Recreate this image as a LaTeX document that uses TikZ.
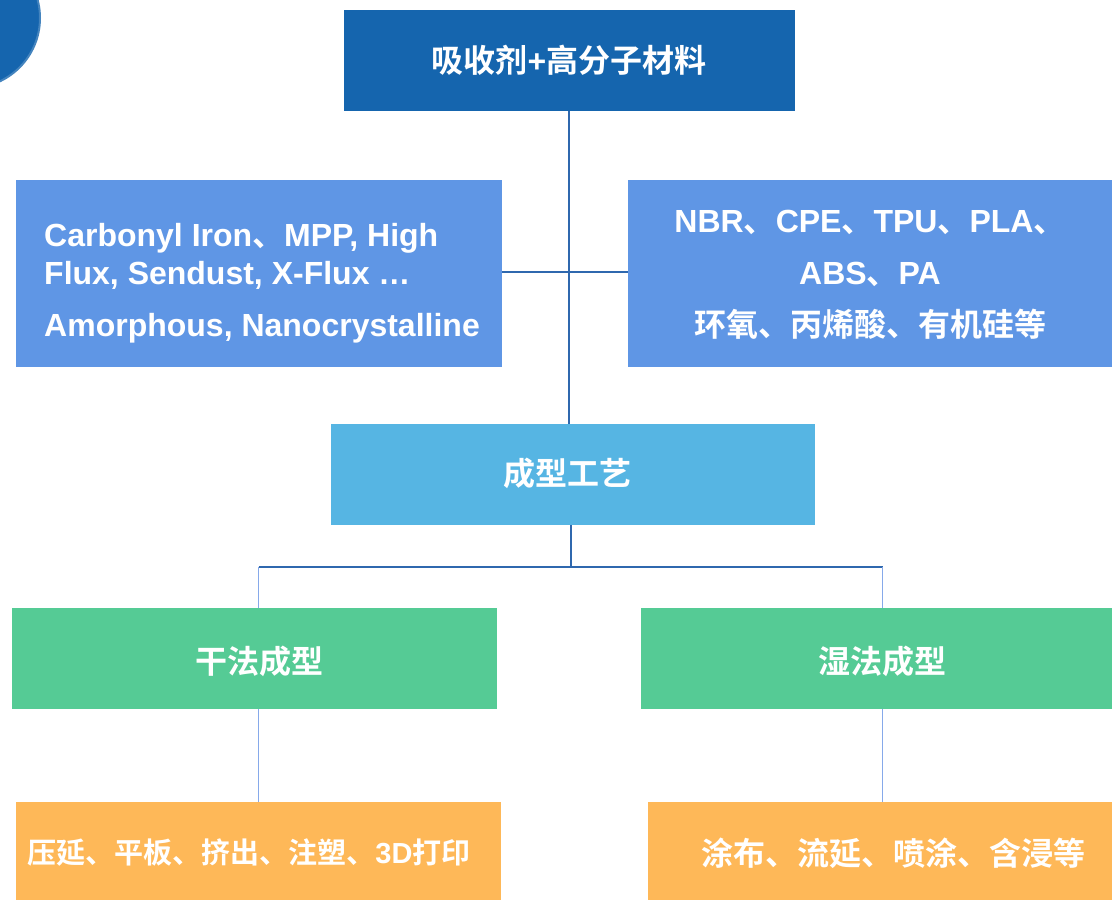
\documentclass[tikz,border=0pt]{standalone}
\usepackage{fontspec}
\setmainfont{Liberation Sans}
\newfontfamily\cjk{Noto Sans CJK SC}[BoldFont={Noto Sans CJK SC Bold}]
\newcommand\dun{{\cjk 、}}
\definecolor{cTop}{HTML}{1565AE}
\definecolor{cBlue}{HTML}{5F96E5}
\definecolor{cMid}{HTML}{56B5E3}
\definecolor{cGreen}{HTML}{55CB95}
\definecolor{cOrange}{HTML}{FEB858}
\definecolor{cLine}{HTML}{2F68AE}
\definecolor{cLight}{HTML}{86A9EA}
\begin{document}
\begin{tikzpicture}[x=1pt,y=-1pt,
  box/.style={anchor=north west, inner sep=0pt, draw=none},
  txt/.style={text=white, font=\bfseries\fontsize{32}{38}\selectfont},
  conn/.style={draw=cLine, line width=1.6pt},
  lconn/.style={draw=cLight, line width=1.4pt}]
\useasboundingbox (0,0) rectangle (1112,900);
\fill[cTop, draw=cTop!80!white, line width=2pt] (-30,18) circle (70);
% boxes
\node[box, fill=cTop, minimum width=451pt, minimum height=101pt] (top) at (344,10) {};
\node[box, fill=cBlue, minimum width=486pt, minimum height=187pt] (left) at (16,180) {};
\node[box, fill=cBlue, minimum width=484pt, minimum height=187pt] (right) at (628,180) {};
\node[box, fill=cMid, minimum width=484pt, minimum height=101pt] (mid) at (331,424) {};
\node[box, fill=cGreen, minimum width=485pt, minimum height=101pt] (dry) at (12,608) {};
\node[box, fill=cGreen, minimum width=471pt, minimum height=101pt] (wet) at (641,608) {};
\node[box, fill=cOrange, minimum width=485pt, minimum height=98pt] (o1) at (16,802) {};
\node[box, fill=cOrange, minimum width=464pt, minimum height=98pt] (o2) at (648,802) {};
% texts
\node[txt] (ttop) at (569,60) {\cjk 吸收剂\textrm{+}高分子材料};
\node[txt, anchor=west, align=left, inner sep=0pt] (tleft) at (44,283)
  {Carbonyl Iron\dun MPP, High\\Flux, Sendust, X-Flux …\\[14pt]Amorphous, Nanocrystalline};
\node[txt, align=center, inner sep=0pt, font=\bfseries\fontsize{32}{52}\selectfont] (tright) at (870,274.5)
  {NBR\dun CPE\dun TPU\dun PLA\dun\\ABS\dun PA\\{\cjk 环氧、丙烯酸、有机硅等}};
\node[txt] (tmid) at (567,473) {\cjk 成型工艺};
\node[txt] (tdry) at (259,661) {\cjk 干法成型};
\node[txt] (twet) at (882,661) {\cjk 湿法成型};
\node[txt, font=\bfseries\fontsize{29}{38}\selectfont] (to1) at (249,853) {\cjk 压延、平板、挤出、注塑、\textrm{3D}打印};
\node[txt, font=\bfseries\fontsize{32}{38}\selectfont] (to2) at (893,853) {\cjk 涂布、流延、喷涂、含浸等};
% connectors
\coordinate (bus) at (0,567);
\draw[conn] ([xshift=-1pt]top.south) -- ([xshift=-1pt]top.south |- mid.north);
\draw[conn] ([yshift=2pt]left.east) -- ([yshift=2pt]right.west);
\draw[conn] ([xshift=-2pt]mid.south) -- ([xshift=-2pt]mid.south |- bus);
\draw[conn] ([xshift=4pt]dry.north |- bus) -- ([xshift=6pt]wet.north |- bus);
\draw[lconn] ([xshift=4pt]dry.north) -- ([xshift=4pt]dry.north |- bus);
\draw[lconn] ([xshift=6pt]wet.north) -- ([xshift=6pt]wet.north |- bus);
\draw[lconn] ([xshift=4pt]dry.south) -- ([xshift=4pt]dry.south |- o1.north);
\draw[lconn] ([xshift=6pt]wet.south) -- ([xshift=6pt]wet.south |- o2.north);
\end{tikzpicture}
\end{document}
